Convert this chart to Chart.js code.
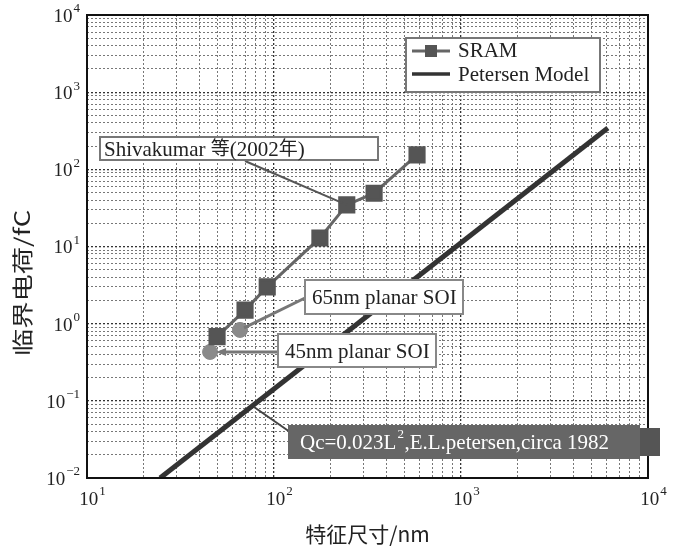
<!DOCTYPE html>
<html>
<head>
<meta charset="utf-8">
<script src="https://cdn.jsdelivr.net/npm/chart.js@4.4.0/dist/chart.umd.min.js"></script>
<style>
  html, body { margin: 0; padding: 0; background: #fff; }
  #wrap { width: 678px; height: 550px; position: relative; }
</style>
</head>
<body>
<div id="wrap"><canvas id="chart" width="678" height="550"></canvas></div>
<script>
// values
const sramSize = [49.6, 70, 92, 176, 245, 343, 582];
const sramCharge = [0.68, 1.5, 3.0, 12.9, 34.6, 49, 154];
const soiSize = [45.5, 65.8];
const soiCharge = [0.43, 0.83];
const petersenSize = [24.6, 6100];
const petersenCharge = [0.01, 344];
const xDecades = [1, 2, 3, 4];
const yDecades = [-2, -1, 0, 1, 2, 3, 4];

const SERIF = '"Liberation Serif", "DejaVu Serif", serif';
const CJK = '"Noto Sans CJK SC", sans-serif';

function toPoints(xs, ys) {
    return xs.map((x, i) => ({ x: x, y: ys[i] }));
}

function allLogTicks(lo, hi) {
    const ticks = [];
    for (let e = lo; e < hi; e++) {
        for (let m = 1; m < 10; m++) ticks.push({ value: m * Math.pow(10, e) });
    }
    ticks.push({ value: Math.pow(10, hi) });
    return ticks;
}

function isDecade(v) {
    const l = Math.log10(v);
    return Math.abs(l - Math.round(l)) < 1e-9;
}

function drawPower(ctx, exp, x, y, align) {
    const base = '10';
    const power = exp < 0 ? '−' + Math.abs(exp) : String(exp);
    ctx.font = '19px ' + SERIF;
    const wb = ctx.measureText(base).width;
    ctx.font = '13px ' + SERIF;
    const wp = ctx.measureText(power).width;
    let left = align === 'right' ? x - wb - wp : x - (wb + wp) / 2;
    ctx.textBaseline = 'middle';
    ctx.textAlign = 'left';
    ctx.font = '19px ' + SERIF;
    ctx.fillText(base, left, y + 2);
    ctx.font = '13px ' + SERIF;
    ctx.fillText(power, left + wb + 1, y - 6);
}

function box(ctx, x, y, w, h, fill, stroke) {
    ctx.fillStyle = fill;
    ctx.fillRect(x, y, w, h);
    if (stroke) {
        ctx.strokeStyle = stroke;
        ctx.lineWidth = 2;
        ctx.strokeRect(x, y, w, h);
    }
}

function line(ctx, x1, y1, x2, y2, color, width) {
    ctx.strokeStyle = color;
    ctx.lineWidth = width;
    ctx.beginPath();
    ctx.moveTo(x1, y1);
    ctx.lineTo(x2, y2);
    ctx.stroke();
}

const decorations = {
    id: 'decorations',
    afterDatasetsDraw(chart) {
        const ctx = chart.ctx;
        const xs = chart.scales.x, ys = chart.scales.y;
        const a = chart.chartArea;
        ctx.save();

        // frame
        ctx.strokeStyle = '#111';
        ctx.lineWidth = 2;
        ctx.strokeRect(a.left, a.top, a.right - a.left, a.bottom - a.top);

        // tick labels
        ctx.fillStyle = '#222';
        xDecades.forEach(e => drawPower(ctx, e, xs.getPixelForValue(Math.pow(10, e)) + 5, a.bottom + 20, 'center'));
        yDecades.forEach(e => drawPower(ctx, e, a.left - 8, ys.getPixelForValue(Math.pow(10, e)), 'right'));

        // axis titles
        ctx.font = '21px ' + CJK;
        ctx.textAlign = 'center';
        ctx.textBaseline = 'middle';
        ctx.fillText('特征尺寸/nm', (a.left + a.right) / 2, 534);
        ctx.save();
        ctx.translate(22, 283);
        ctx.rotate(-Math.PI / 2);
        ctx.scale(1.3, 1);
        ctx.fillText('临界电荷/fC', 0, 0);
        ctx.restore();

        const px = v => xs.getPixelForValue(v);
        const py = v => ys.getPixelForValue(v);

        // leaders
        line(ctx, 245, 161, px(sramSize[4]), py(sramCharge[4]), '#555', 2);
        line(ctx, 305, 298, px(soiSize[1]) + 4, py(soiCharge[1]) - 2, '#777', 3);
        line(ctx, 278, 352, px(soiSize[0]) + 10, py(soiCharge[0]), '#777', 3);
        ctx.fillStyle = '#777';
        ctx.beginPath();
        ctx.moveTo(px(soiSize[0]) + 6, py(soiCharge[0]));
        ctx.lineTo(px(soiSize[0]) + 16, py(soiCharge[0]) - 4);
        ctx.lineTo(px(soiSize[0]) + 16, py(soiCharge[0]) + 4);
        ctx.fill();
        line(ctx, 290, 432, 254, 407, '#444', 2);

        // annotation boxes
        ctx.textAlign = 'left';
        ctx.textBaseline = 'middle';
        box(ctx, 100, 137, 278, 23, '#fff', '#777');
        ctx.fillStyle = '#222';
        let tx = 104;
        [['Shivakumar ', SERIF, 150], ['等', CJK, 148], ['(2002', SERIF, 150], ['年', CJK, 148], [')', SERIF, 150]].forEach(p => {
            ctx.font = (p[1] === CJK ? '19px ' : '21px ') + p[1];
            ctx.fillText(p[0], tx, p[2]);
            tx += ctx.measureText(p[0]).width;
        });

        box(ctx, 305, 280, 158, 34, '#fff', '#888');
        ctx.fillStyle = '#222';
        ctx.font = '21px ' + SERIF;
        ctx.fillText('65nm planar SOI', 312, 298);

        box(ctx, 278, 334, 158, 33, '#fff', '#888');
        ctx.fillStyle = '#222';
        ctx.fillText('45nm planar SOI', 285, 352);

        box(ctx, 288, 425, 352, 34, '#666', null);
        ctx.fillStyle = '#555';
        ctx.fillRect(640, 428, 20, 28);
        ctx.fillStyle = '#fff';
        ctx.font = '21px ' + SERIF;
        ctx.fillText('Qc=0.023L', 300, 443);
        let wq = ctx.measureText('Qc=0.023L').width;
        ctx.font = '13px ' + SERIF;
        ctx.fillText('2', 301 + wq, 435);
        ctx.font = '21px ' + SERIF;
        ctx.fillText(',E.L.petersen,circa 1982', 308 + wq, 443);

        // legend
        box(ctx, 406, 38, 194, 54, '#fff', '#777');
        line(ctx, 412, 51, 450, 51, '#666', 3);
        ctx.fillStyle = '#555';
        ctx.fillRect(425, 45, 12, 12);
        line(ctx, 412, 74, 450, 74, '#333', 3.5);
        ctx.fillStyle = '#222';
        ctx.font = '21px ' + SERIF;
        ctx.fillText('SRAM', 458, 51);
        ctx.fillText('Petersen Model', 458, 75);

        ctx.restore();
    }
};

new Chart(document.getElementById('chart'), {
    type: 'scatter',
    data: {
        datasets: [
            {
                label: 'Petersen Model',
                data: toPoints(petersenSize, petersenCharge),
                showLine: true,
                borderColor: '#333',
                borderWidth: 5,
                pointRadius: 0
            },
            {
                label: 'SRAM',
                data: toPoints(sramSize, sramCharge),
                showLine: true,
                borderColor: '#666',
                borderWidth: 3,
                pointStyle: 'rect',
                pointRadius: 10,
                pointBackgroundColor: '#555',
                pointBorderColor: '#555'
            },
            {
                label: 'SOI',
                data: toPoints(soiSize, soiCharge),
                showLine: false,
                pointStyle: 'circle',
                pointRadius: 7.5,
                pointBackgroundColor: '#8a8a8a',
                pointBorderColor: '#8a8a8a'
            }
        ]
    },
    options: {
        responsive: false,
        animation: false,
        layout: { padding: { top: 15, right: 30, left: 0, bottom: 0 } },
        plugins: { legend: { display: false }, tooltip: { enabled: false } },
        scales: {
            x: {
                type: 'logarithmic',
                min: 10,
                max: 10000,
                afterBuildTicks: s => { s.ticks = allLogTicks(1, 4); },
                afterFit: s => { s.height = 72; },
                ticks: { callback: () => '', autoSkip: false },
                border: { display: false, dash: [2, 2] },
                grid: {
                    color: c => isDecade(c.tick.value) ? '#333' : '#777',
                    lineWidth: c => isDecade(c.tick.value) ? 1.3 : 1,
                    tickLength: 0,
                    drawTicks: false
                }
            },
            y: {
                type: 'logarithmic',
                min: 0.01,
                max: 10000,
                afterBuildTicks: s => { s.ticks = allLogTicks(-2, 4); },
                afterFit: s => { s.width = 87; },
                ticks: { callback: () => '', autoSkip: false },
                border: { display: false, dash: [2, 2] },
                grid: {
                    color: c => isDecade(c.tick.value) ? '#333' : '#777',
                    lineWidth: c => isDecade(c.tick.value) ? 1.3 : 1,
                    tickLength: 0,
                    drawTicks: false
                }
            }
        }
    },
    plugins: [decorations]
});
</script>
</body>
</html>
